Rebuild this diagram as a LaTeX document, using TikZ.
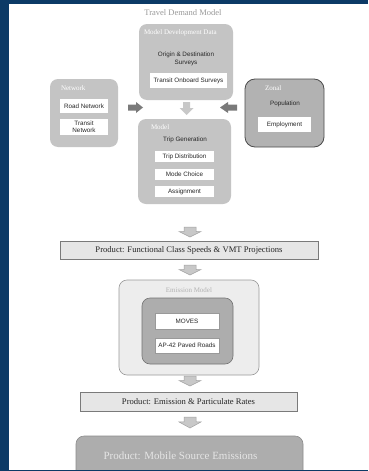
\documentclass[tikz,border=0pt]{standalone}
\usepackage{fontspec}
\setmainfont{Liberation Serif}
\setsansfont{Liberation Sans}
\definecolor{bgblue}{HTML}{0C3A66}
\definecolor{gA}{HTML}{C4C4C4}
\definecolor{gB}{HTML}{B2B2B2}
\definecolor{gC}{HTML}{ADADAD}
\definecolor{gLight}{HTML}{EDEDED}
\definecolor{gProd}{HTML}{E6E6E6}
\definecolor{gArrow}{HTML}{C8C8C8}
\definecolor{gDark}{HTML}{7A7A7A}
\newcommand{\blkdown}[4][gArrow]{% fill, cx, ytop, ybot
  \pgfmathsetmacro{\hy}{#3+(#4-#3)*0.45}
  \filldraw[fill=#1,draw=gDark!70,line width=0.5pt,line join=miter]
    (#2-6,#3) -- (#2+6,#3) -- (#2+6,\hy) -- (#2+11,\hy) -- (#2,#4) -- (#2-11,\hy) -- (#2-6,\hy) -- cycle;}
\begin{document}
\begin{tikzpicture}[x=1pt,y=-1pt,
  every node/.style={inner sep=0pt,outer sep=0pt},
  panel/.style={anchor=north west,rounded corners=8pt},
  sub/.style={anchor=north west,fill=white,font=\sffamily\fontsize{6.3}{7.4}\selectfont,align=center,text=black!85},
  ttl/.style={anchor=west,text=white,font=\fontsize{7}{8}\selectfont},
  inner/.style={font=\sffamily\fontsize{6.3}{7.4}\selectfont,align=center,text=black!85},
  prod/.style={anchor=north west,fill=gProd,draw=gDark,line width=0.6pt,font=\fontsize{8.6}{10}\selectfont,text=black!85}]
\fill[bgblue] (0,0) rectangle (368,471);
\useasboundingbox (0,0) rectangle (368,471);
\fill[white] (9,4) rectangle (368,469.5);

\node[text=black!40,font=\fontsize{8.5}{10}\selectfont] (title) at (183,13) {Travel Demand Model};

% Model Development Data
\node[panel,fill=gA,minimum width=94pt,minimum height=76pt] (mdd) at (139,24) {};
\node[ttl] (mddt) at (144,33) {Model Development Data};
\node[inner] (od) at (186,59) {Origin \& Destination\\Surveys};
\node[sub,minimum width=77pt,minimum height=15pt] (tos) at (150,73) {Transit Onboard Surveys};

% Network
\node[panel,fill=gA,minimum width=68pt,minimum height=68pt] (net) at (50,79) {};
\node[ttl] (nett) at (61,88) {Network};
\node[sub,minimum width=48pt,minimum height=14pt] (road) at (60,99) {Road Network};
\node[sub,minimum width=48pt,minimum height=16pt] (transit) at (60,119) {Transit\\Network};

% Zonal
\node[panel,rounded corners=10pt,fill=gB,draw=black!70,line width=0.8pt,minimum width=79pt,minimum height=68pt] (zonal) at (245,79) {};
\node[ttl] (zonalt) at (265,88) {Zonal};
\node[inner] (pop) at (285,104) {Population};
\node[sub,minimum width=53pt,minimum height=15pt] (emp) at (258,117) {Employment};

% Model
\node[panel,fill=gA,minimum width=93pt,minimum height=85pt] (model) at (138,119) {};
\node[ttl] (modelt) at (151,127) {Model};
\node[inner] (tg) at (185,140) {Trip Generation};
\node[sub,minimum width=59pt,minimum height=11pt] (td) at (155,151) {Trip Distribution};
\node[sub,minimum width=59pt,minimum height=11pt] (mc) at (155,169) {Mode Choice};
\node[sub,minimum width=59pt,minimum height=11pt] (as) at (155,186) {Assignment};

% side arrows
\fill[gDark] (128,104.5) -- (136,104.5) -- (136,102) -- (143,107.5) -- (136,113) -- (136,110.5) -- (128,110.5) -- cycle;
\fill[gDark] (237,104.5) -- (228,104.5) -- (228,102) -- (220,107.5) -- (228,113) -- (228,110.5) -- (237,110.5) -- cycle;
\fill[gArrow] (183,102) -- (190,102) -- (190,108) -- (193.5,108) -- (186.5,115) -- (179.5,108) -- (183,108) -- cycle;

% Product 1
\blkdown{190}{227}{237}
\node[prod,minimum width=258pt,minimum height=18pt] (p1) at (60,241) {Product: Functional Class Speeds \& VMT Projections};
\blkdown{190}{265}{275}

% Emission model
\node[panel,fill=gLight,draw=black!40,line width=0.6pt,minimum width=140pt,minimum height=95pt] (em) at (119,280) {};
\node[text=black!30,font=\fontsize{7}{8}\selectfont] (emt) at (189,290) {Emission Model};
\node[panel,fill=gC,draw=black!55,line width=0.6pt,minimum width=91pt,minimum height=66pt] (emi) at (142,298) {};
\node[sub,draw=black!40,line width=0.4pt,minimum width=64pt,minimum height=16pt] (moves) at (155,313) {MOVES};
\node[sub,draw=black!40,line width=0.4pt,minimum width=64pt,minimum height=15pt] (ap42) at (155,338) {AP-42 Paved Roads};

\blkdown{190}{376}{386}
\node[prod,minimum width=217pt,minimum height=19pt] (p2) at (80,392) {Product: Emission \& Particulate Rates};
\blkdown{190}{417}{428}

% Mobile source
\node[panel,fill=gC,draw=black!45,line width=0.6pt,minimum width=227pt,minimum height=50pt] (mob) at (76,436) {};
\node[text=white!90!black,font=\fontsize{11}{13}\selectfont] (mobt) at (180.5,456) {Product: Mobile Source Emissions};
\fill[bgblue] (0,469.5) rectangle (368,471);
\end{tikzpicture}
\end{document}
